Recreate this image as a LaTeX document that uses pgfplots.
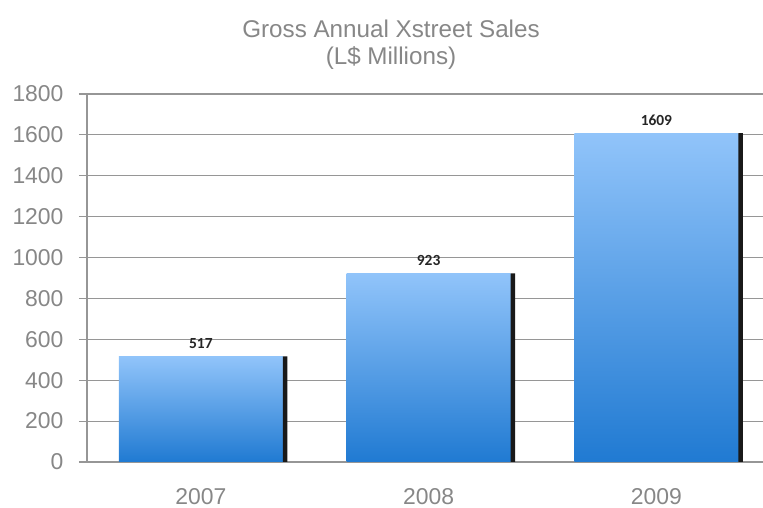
\documentclass[border=0pt]{standalone}
\usepackage{pgfplots}
\pgfplotsset{compat=1.18}
\usepackage{fontspec}
\setmainfont{Liberation Sans}
\newfontfamily\labelfont{Carlito}
\definecolor{gridgray}{RGB}{150,150,150}
\definecolor{textgray}{RGB}{135,135,135}
\definecolor{bartop}{RGB}{145,196,250}
\definecolor{barbot}{RGB}{32,122,210}
\begin{document}
\begin{tikzpicture}
\path[use as bounding box] (0,0) rectangle (763bp,508bp);
\begin{axis}[
  at={(87bp,46bp)}, anchor=south west,
  scale only axis, width=676bp, height=368bp,
  xmin=-0.5, xmax=2.468, ymin=0, ymax=1800,
  axis lines*=left,
  axis line style={draw=gridgray, line width=1.2bp},
  ytick={0,200,...,1800},
  ymajorgrids,
  grid style={draw=gridgray, line width=1.2bp},
  tick align=outside,
  major tick length=8bp,
  tick style={draw=gridgray, line width=1.2bp},
  xtick={0,1,2},
  xticklabels={2007,2008,2009},
  x tick style={draw=none},
  extra x ticks={-0.5,0.5,1.5},
  extra x tick labels={},
  extra x tick style={grid=none, tick style={draw=gridgray, line width=1.2bp}},
  /pgf/number format/assume math mode=true,
  /pgf/number format/1000 sep={},
  ticklabel style={font=\fontsize{23}{25}\selectfont, text=textgray},
  yticklabel style={xshift=-12bp},
  xticklabel style={yshift=-15bp},
  clip=false,
  barlabel/.style={nodes near coords,
    every node near coord/.append style={font=\labelfont\bfseries\fontsize{15.5}{16}\selectfont, text=black!85, yshift=4bp}},
  bluebar/.style={ybar, draw=none, bar width=0.72, bar shift=0,
    top color=bartop, bottom color=barbot, barlabel},
]
\addplot[bluebar] coordinates {(0,517)};
\addplot[bluebar] coordinates {(1,923)};
\addplot[bluebar] coordinates {(2,1609)};
\addplot[ybar, draw=none, fill=black!90, bar width=0.02, bar shift=0.37]
  coordinates {(0,517) (1,923) (2,1609)};
\end{axis}
\node[anchor=base, text=textgray, font=\fontsize{24.3}{26}\selectfont] at (391bp,470bp) {Gross Annual Xstreet Sales};
\node[anchor=base, text=textgray, font=\fontsize{24.3}{26}\selectfont] at (391bp,443bp) {(L\$ Millions)};
\end{tikzpicture}
\end{document}
